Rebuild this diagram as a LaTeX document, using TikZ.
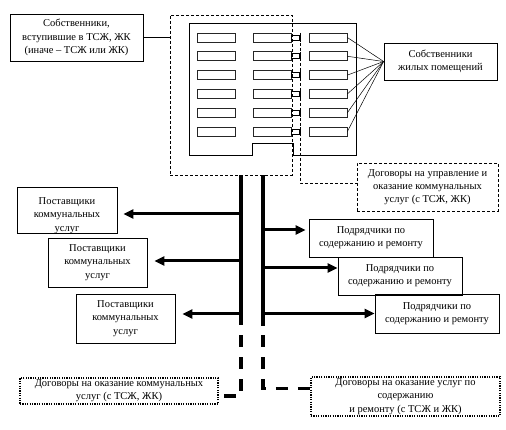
\documentclass[tikz,border=0pt]{standalone}
\usepackage{fontspec}
\setmainfont{Liberation Serif}
\usetikzlibrary{arrows.meta}
\begin{document}
\begin{tikzpicture}[x=1pt,y=-1pt,
  txt/.style={font=\fontsize{10.5}{13.2}\selectfont, align=center, inner sep=0pt},
  bx/.style 2 args={draw, line width=0.8pt, txt, minimum width=#1, minimum height=#2},
  dbx/.style 2 args={bx={#1}{#2}, dash pattern=on 3pt off 2pt},
  obx/.style 2 args={bx={#1}{#2}, line width=1.2pt, dash pattern=on 1.2pt off 1.2pt},
  apt/.style={draw, line width=0.8pt, black!85, minimum width=38pt, minimum height=9pt, inner sep=0pt},
  thinln/.style={line width=0.6pt},
  dln/.style={line width=0.8pt, dash pattern=on 3pt off 2pt},
  trunk/.style={line width=3.2pt},
  trunkdash/.style={line width=3.2pt, dash pattern=on 12pt off 10pt},
  arr/.style={line width=3pt, -{Triangle[length=10pt,width=9pt]}}]
\useasboundingbox (0,0) rectangle (506,430);

% owners who joined
\node[bx={133pt}{47pt}] (own1) at (76.5,37.5) {Собственники,\\ вступившие в ТСЖ, ЖК\\ (иначе – ТСЖ или ЖК)};
% dashed TSG region
\node[dbx={122pt}{160pt}] (tsg) at (231,95) {};
\draw[thinln] (own1.east) -- (own1.east -| tsg.west);

% building
\draw[line width=0.8pt] (189,23) -- (356,23) -- (356,155) -- (293,155) -- (293,143)
  -- (252,143) -- (252,155) -- (189,155) -- cycle;

% apartments
\foreach \r in {1,...,6}{
  \pgfmathsetmacro{\yy}{37.5+18.8*(\r-1)}
  \node[apt] (a\r1) at (216,\yy) {};
  \node[apt] (a\r2) at (272,\yy) {};
  \node[apt] (a\r3) at (328,\yy) {};
  \draw[line width=0.7pt] ([yshift=-2.5pt]a\r2.east) rectangle ([xshift=8pt,yshift=2.5pt]a\r2.east);
  \draw[line width=0.7pt] ([xshift=9pt,yshift=4.5pt]a\r2.east) -- ([xshift=9pt,yshift=-4.5pt]a\r2.east);
}

% owners of flats
\node[bx={113pt}{37pt}] (own2) at (440.5,61.5) {Собственники\\ жилых помещений};
\foreach \r in {1,...,6}{
  \draw[line width=0.5pt] (a\r3.east) -- (own2.west);
}

% management contracts
\node[dbx={141pt}{48pt}] (dog1) at (427.5,187) {Договоры на управление и\\ оказание коммунальных\\ услуг (с ТСЖ, ЖК)};
\coordinate (dtop) at (300,33);
\draw[dln] (dtop) |- ([yshift=4pt]dog1.west);

% suppliers
\node[bx={100pt}{37pt}] (p1) at (67,210.5) {\rule{0pt}{17pt}Поставщики\\ коммунальных\\ услуг};
\node[bx={99pt}{49pt}] (p2) at (97.5,262.5) {Поставщики\\ коммунальных\\ услуг};
\node[bx={99pt}{49pt}] (p3) at (125.5,318.5) {Поставщики\\ коммунальных\\ услуг};

% contractors
\node[bx={124pt}{38pt}] (c1) at (371,238) {Подрядчики по\\ содержанию и ремонту};
\node[bx={124pt}{38pt}] (c2) at (400,276) {Подрядчики по\\ содержанию и ремонту};
\node[bx={124pt}{39pt}] (c3) at (437,313.5) {Подрядчики по\\ содержанию и ремонту};

% bottom contracts
\node[obx={198pt}{26pt}] (dogL) at (119,391) {Договоры на оказание коммунальных\\ услуг (с ТСЖ, ЖК)};
\node[obx={189pt}{39pt}] (dogR) at (405.5,396.5) {Договоры на оказание услуг по\\ содержанию\\ и ремонту (с ТСЖ и ЖК)};

% trunks
\coordinate (L0) at ([xshift=10pt]tsg.south);
\coordinate (R0) at ([xshift=32pt]tsg.south);
\coordinate (L1) at ([yshift=-150pt]L0);
\coordinate (R1) at ([yshift=-151pt]R0);
\coordinate (L2) at ([yshift=-160pt]L0);
\coordinate (R2) at ([yshift=-160pt]R0);
\draw[trunk] (L0) -- (L1);
\draw[trunk] (R0) -- (R1);
\draw[trunkdash] (L2) |- ([yshift=-5pt]dogL.east);
\draw[trunkdash] (R2) |- ([yshift=8pt]dogR.west);

% arrows to suppliers
\coordinate (p1a) at ([xshift=6pt,yshift=-3.5pt]p1.east);
\coordinate (p2a) at ([xshift=7pt,yshift=1.5pt]p2.east);
\coordinate (p3a) at ([xshift=7pt,yshift=4.5pt]p3.east);
\draw[arr] (L0 |- p1a) -- (p1a);
\draw[arr] (L0 |- p2a) -- (p2a);
\draw[arr] (L0 |- p3a) -- (p3a);

% arrows to contractors
\coordinate (c1a) at ([xshift=-3pt,yshift=8pt]c1.west);
\coordinate (c2a) at ([xshift=0pt,yshift=8pt]c2.west);
\coordinate (c3a) at ([xshift=0pt,yshift=0pt]c3.west);
\draw[arr] (R0 |- c1a) -- (c1a);
\draw[arr] (R0 |- c2a) -- (c2a);
\draw[arr] (R0 |- c3a) -- (c3a);
\end{tikzpicture}
\end{document}
